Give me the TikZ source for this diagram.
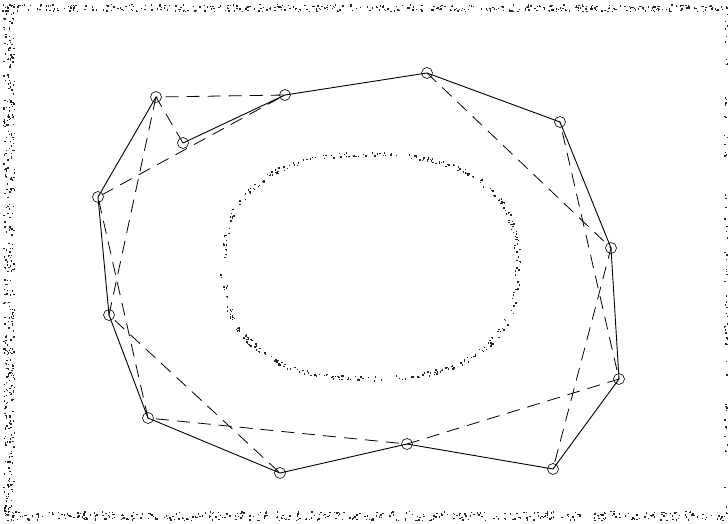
\documentclass[tikz,border=0pt]{standalone}
\usepackage{tikz}
\usetikzlibrary{positioning}

\begin{document}
\begin{tikzpicture}[x=1pt,y=-1pt,
city/.style={draw,circle,minimum size=11pt,inner sep=0pt,line width=0.6pt},
tour/.style={line width=0.9pt},
alt/.style={line width=0.8pt,dash pattern=on 13pt off 8pt},
speck/.style={fill=black!85}]
\useasboundingbox (0,0) rectangle (728,523);
\pgfmathsetseed{4711}
% noisy frame
\foreach \i in {1,...,420} {
  \pgfmathsetmacro\px{rnd*728}\pgfmathsetmacro\py{4+rnd*7}
  \fill[speck] (\px,\py) rectangle ++(1.4,1.4);}
\foreach \i in {1,...,420} {
  \pgfmathsetmacro\px{rnd*728}\pgfmathsetmacro\py{511+rnd*9}
  \fill[speck] (\px,\py) rectangle ++(1.4,1.4);}
\foreach \i in {1,...,380} {
  \pgfmathsetmacro\px{3+rnd*11}\pgfmathsetmacro\py{4+rnd*516}
  \fill[speck] (\px,\py) rectangle ++(1.4,1.4);}
\foreach \i in {1,...,70} {
  \pgfmathsetmacro\px{724+rnd*3}\pgfmathsetmacro\py{4+rnd*516}
  \fill[speck] (\px,\py) rectangle ++(1.4,1.4);}
% noisy ring
\foreach \i in {1,...,380} {
  \pgfmathsetmacro\a{rnd*360}\pgfmathsetmacro\r{1+0.02*rand}
  \pgfmathsetmacro\c{cos(\a)}\pgfmathsetmacro\s{sin(\a)}
  \pgfmathsetmacro\px{370+147*\r*sign(\c)*(abs(\c)+0.0001)^0.82}
  \pgfmathsetmacro\py{266+112*\r*sign(\s)*(abs(\s)+0.0001)^0.82}
  \fill[speck] (\px,\py) rectangle ++(1.4,1.4);}
% cities
\node[city] (a) at (156,97) {};
\node[city] (b) at (183,143) {};
\node[city] (c) at (285,95) {};
\node[city] (d) at (427,73) {};
\node[city] (e) at (560,122) {};
\node[city] (f) at (611,248) {};
\node[city] (g) at (619,379) {};
\node[city] (h) at (553,469) {};
\node[city] (i) at (407,444) {};
\node[city] (j) at (280,473) {};
\node[city] (k) at (148,418) {};
\node[city] (l) at (109,315) {};
\node[city] (m) at (98,197) {};
% solid tour
\draw[tour] (b.center)--(c.center)--(d.center)--(e.center)--(f.center)--(g.center)--(h.center)
  --(i.center)--(j.center)--(k.center)--(l.center)--(m.center)--(a.center);
% dashed tour
\draw[alt] (b.center)--(a.center)--(c.center)--(m.center)--(k.center)--(i.center)--(g.center)--(e.center);
\draw[alt] (a.center)--(l.center)--(j.center);
\draw[alt] (d.center)--(f.center)--(h.center);
\end{tikzpicture}
\end{document}
